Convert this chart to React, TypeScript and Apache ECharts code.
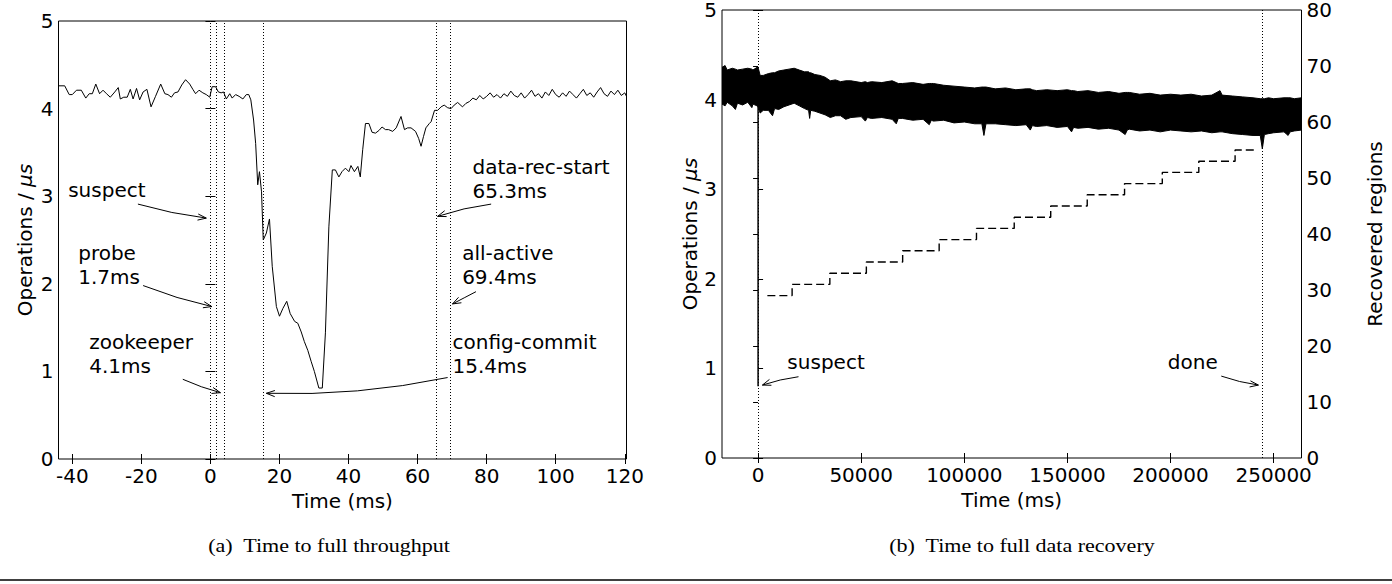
import React, { useEffect, useRef } from 'react';
import * as echarts from 'echarts';

// ---------- Left panel (a): throughput around the failure ----------
const leftThroughput: [number, number][] = [
  [-44.0, 4.26], [-42.2, 4.26], [-40.9, 4.16], [-40.0, 4.16], [-38.8, 4.21], [-37.4, 4.21],
  [-36.1, 4.12], [-35.1, 4.17], [-34.2, 4.17], [-33.2, 4.28], [-32.1, 4.17], [-31.1, 4.21],
  [-30.1, 4.17], [-29.0, 4.13], [-27.7, 4.19], [-26.7, 4.24], [-26.1, 4.11], [-25.1, 4.13],
  [-24.1, 4.13], [-23.2, 4.22], [-22.4, 4.11], [-21.4, 4.23], [-20.5, 4.10], [-19.5, 4.19],
  [-18.4, 4.22], [-17.2, 4.02], [-15.9, 4.14], [-14.4, 4.28], [-13.2, 4.17], [-12.3, 4.16],
  [-11.3, 4.13], [-10.4, 4.18], [-9.4, 4.19], [-8.3, 4.27], [-7.2, 4.33], [-6.0, 4.28],
  [-5.1, 4.22], [-4.3, 4.17], [-3.3, 4.21], [-2.2, 4.18], [-1.2, 4.16], [-0.2, 4.13],
  [0.5, 4.25], [1.5, 4.25], [2.3, 4.19], [3.1, 4.18], [3.8, 4.19], [4.6, 4.11],
  [5.6, 4.17], [6.3, 4.12], [7.3, 4.16], [8.3, 4.14], [9.4, 4.11], [10.4, 4.16],
  [11.1, 4.16], [11.7, 4.10], [12.5, 3.87], [13.1, 3.60], [13.7, 3.13], [14.2, 3.28],
  [14.8, 3.05], [15.3, 2.50], [16.2, 2.58], [17.1, 2.74], [17.9, 2.20], [19.1, 1.74],
  [20.0, 1.63], [21.0, 1.72], [22.1, 1.80], [23.1, 1.66], [24.4, 1.57], [25.3, 1.55],
  [26.3, 1.45], [27.2, 1.34], [28.2, 1.24], [29.2, 1.11], [30.1, 1.00], [31.4, 0.81],
  [32.4, 0.81], [33.3, 1.44], [34.3, 2.65], [35.3, 3.30], [36.2, 3.30], [37.2, 3.22],
  [38.1, 3.28], [39.1, 3.32], [40.1, 3.28], [40.7, 3.35], [41.7, 3.28], [42.7, 3.34],
  [43.4, 3.22], [44.1, 3.53], [44.9, 3.83], [45.9, 3.83], [46.8, 3.73], [47.8, 3.72],
  [48.8, 3.75], [49.7, 3.79], [50.7, 3.76], [51.6, 3.76], [52.8, 3.74], [53.8, 3.78],
  [55.2, 3.91], [56.2, 3.76], [57.1, 3.78], [58.1, 3.78], [59.4, 3.74], [60.3, 3.66],
  [61.0, 3.57], [61.7, 3.68], [62.4, 3.78], [63.4, 3.83], [63.9, 3.85], [64.9, 3.98],
  [65.8, 3.98], [66.8, 4.02], [67.7, 4.04], [68.7, 4.01], [69.7, 4.00], [70.6, 4.04],
  [71.6, 4.07], [73.0, 4.02], [74.0, 4.06], [75, 4.08], [76, 4.12], [77, 4.10],
  [78, 4.15], [79, 4.11], [80, 4.14], [81, 4.18], [82, 4.13], [83, 4.16], [84, 4.12],
  [85, 4.17], [86, 4.14], [87, 4.20], [88, 4.15], [89, 4.13], [90, 4.18], [91, 4.12],
  [92, 4.16], [93, 4.21], [94, 4.14], [95, 4.17], [96, 4.12], [97, 4.19], [98, 4.15],
  [99, 4.22], [100, 4.16], [101, 4.13], [102, 4.18], [103, 4.14], [104, 4.20], [105, 4.16],
  [106, 4.12], [107, 4.17], [108, 4.22], [109, 4.15], [110, 4.18], [111, 4.13], [112, 4.19],
  [113, 4.24], [114, 4.17], [115, 4.14], [116, 4.20], [117, 4.16], [118, 4.21], [119, 4.15],
  [120, 4.18], [120.5, 4.14],
];
const leftEvents = [0, 1.7, 4.1, 15.4, 65.3, 69.4];
const leftXTicks = [-40, -20, 0, 20, 40, 60, 80, 100, 120];

// text: label, x, y (block centre); arrow: [tailX, tailY, headX, headY, curvature]
const leftNotes: { text: string; x: number; y: number; arrow: number[] }[] = [
  { text: 'suspect', x: -41.2, y: 3.07, arrow: [-21.0, 2.91, -1.2, 2.75, 0.04] },
  { text: 'probe\n1.7ms', x: -38.3, y: 2.215, arrow: [-19.5, 1.98, 0.4, 1.74, 0.04] },
  { text: 'zookeeper\n4.1ms', x: -35.1, y: 1.2, arrow: [-8.0, 0.91, 2.9, 0.757, 0.04] },
  { text: 'data-rec-start\n65.3ms', x: 75.9, y: 3.194, arrow: [81.3, 2.91, 65.8, 2.77, 0.05] },
  { text: 'all-active\n69.4ms', x: 72.9, y: 2.21, arrow: [76.9, 1.91, 70.1, 1.77, 0.0] },
  { text: 'config-commit\n15.4ms', x: 70.1, y: 1.2, arrow: [68.7, 0.93, 16.2, 0.75, -0.06] },
];

// ---------- Right panel (b): full data recovery ----------
// envelope of the dense throughput trace: [time (ms), upper, lower]
const bandEnvelope: [number, number, number][] = [
  [-17500, 4.36, 3.95], [-16000, 4.38, 3.93], [-15000, 4.33, 3.97], [-12500, 4.35, 3.93],
  [-11000, 4.34, 3.89], [-10000, 4.33, 3.96], [-7500, 4.34, 3.94], [-5000, 4.35, 3.97],
  [-3000, 4.34, 3.91], [-2500, 4.33, 3.95], [-500, 4.36, 3.93], [0, 4.36, 3.92],
  [1000, 4.27, 3.85], [2500, 4.27, 3.88], [5000, 4.29, 3.88], [7000, 4.30, 3.82],
  [8000, 4.30, 3.90], [10000, 4.32, 3.89], [12500, 4.33, 3.92], [15000, 4.34, 3.94],
  [17500, 4.35, 3.96], [20000, 4.33, 3.93], [22500, 4.31, 3.90], [24500, 4.31, 3.88],
  [25000, 4.30, 3.79], [25500, 4.30, 3.88], [27500, 4.28, 3.87], [30000, 4.27, 3.85],
  [32500, 4.25, 3.83], [35000, 4.21, 3.80], [37500, 4.22, 3.82], [40000, 4.20, 3.82],
  [42500, 4.21, 3.78], [45000, 4.21, 3.80], [50000, 4.19, 3.81], [52000, 4.20, 3.76],
  [53000, 4.19, 3.80], [55000, 4.20, 3.79], [60000, 4.19, 3.80], [65000, 4.21, 3.78],
  [67000, 4.19, 3.73], [68000, 4.18, 3.79], [70000, 4.18, 3.79], [75000, 4.19, 3.77],
  [80000, 4.17, 3.78], [83000, 4.18, 3.72], [84000, 4.18, 3.77], [85000, 4.18, 3.76],
  [90000, 4.16, 3.77], [95000, 4.15, 3.74], [100000, 4.14, 3.75], [105000, 4.13, 3.73],
  [108500, 4.14, 3.73], [109500, 4.14, 3.60], [110500, 4.14, 3.73], [115000, 4.12, 3.73],
  [120000, 4.13, 3.72], [125000, 4.11, 3.71], [130000, 4.12, 3.72], [132000, 4.12, 3.66],
  [133000, 4.11, 3.71], [135000, 4.10, 3.70], [140000, 4.11, 3.71], [145000, 4.10, 3.69],
  [150000, 4.11, 3.70], [152000, 4.10, 3.64], [153000, 4.10, 3.69], [155000, 4.09, 3.68],
  [160000, 4.10, 3.69], [165000, 4.08, 3.67], [170000, 4.09, 3.68], [175000, 4.07, 3.66],
  [178000, 4.08, 3.61], [179000, 4.08, 3.66], [180000, 4.08, 3.67], [185000, 4.06, 3.65],
  [190000, 4.07, 3.66], [195000, 4.05, 3.64], [200000, 4.06, 3.66], [205000, 4.05, 3.65],
  [210000, 4.06, 3.64], [215000, 4.04, 3.65], [220000, 4.05, 3.63], [224000, 4.10, 3.64],
  [225000, 4.05, 3.64], [230000, 4.04, 3.62], [235000, 4.03, 3.61], [240000, 4.02, 3.60],
  [243500, 4.01, 3.60], [244500, 4.01, 3.45], [245500, 4.01, 3.61], [247500, 4.02, 3.62],
  [250000, 4.01, 3.63], [255000, 4.02, 3.64], [257000, 4.02, 3.60], [258000, 4.02, 3.64],
  [260000, 4.01, 3.65], [263500, 4.02, 3.66],
];
const suspectDrop: [number, number][] = [[0, 3.95], [0, 0.8]];
const regionSteps: [number, number][] = [
  [4500, 29], [16500, 31], [34800, 33], [52500, 35], [70100, 37], [87800, 39], [105900, 41],
  [124200, 43], [141900, 45], [159600, 47], [177700, 49], [196000, 51], [213700, 53],
  [231300, 55], [242000, 55],
];
const rightEvents = [0, 244500];
const rightXTicks = [0, 50000, 100000, 150000, 200000, 250000];
const rightNotes: { text: string; x: number; y: number; arrow: number[] }[] = [
  { text: 'suspect', x: 14200, y: 1.074, arrow: [19600, 0.907, 2100, 0.814, 0.05] },
  { text: 'done', x: 198700, y: 1.074, arrow: [224600, 0.914, 242600, 0.814, 0.05] },
];

const FONT = '"DejaVu Sans", sans-serif';

export default function App() {
  const ref = useRef<HTMLDivElement>(null);

  useEffect(() => {
    const chart = echarts.init(ref.current!, null, { renderer: 'svg' });
    const txt = { color: '#000', fontFamily: FONT, fontSize: 20 };
    const tick = { show: true, inside: true, length: 5, lineStyle: { color: '#000', width: 1 } };
    const noLine = { show: false };
    const dotted = { color: '#000', width: 1, type: [1, 2] as any };
    const yName = {
      ...txt,
      rich: {
        a: { fontFamily: FONT, fontSize: 20, color: '#000' },
        b: { fontFamily: FONT, fontSize: 20, color: '#000', fontStyle: 'italic' },
      },
    };

    chart.setOption({
      animation: false,
      grid: [
        { left: 58.5, top: 21, width: 568, height: 438, show: true, borderColor: '#000', borderWidth: 1, backgroundColor: 'transparent' },
        { left: 722, top: 9, width: 579.5, height: 449, show: true, borderColor: '#000', borderWidth: 1, backgroundColor: 'transparent' },
      ],
      xAxis: [
        {
          type: 'value', gridIndex: 0, min: -44, max: 120.5, axisLine: noLine, splitLine: { show: false },
          axisTick: { ...tick, customValues: leftXTicks },
          axisLabel: { ...txt, margin: 7, customValues: leftXTicks },
          name: 'Time (ms)', nameLocation: 'middle', nameGap: 30, nameTextStyle: txt,
        },
        {
          type: 'value', gridIndex: 0, position: 'top', min: -44, max: 120.5, axisLine: noLine, splitLine: { show: false },
          axisTick: { ...tick, customValues: leftXTicks }, axisLabel: { show: false, customValues: leftXTicks },
        },
        {
          type: 'value', gridIndex: 1, min: -17500, max: 263500, axisLine: noLine, splitLine: { show: false },
          axisTick: { ...tick, customValues: rightXTicks },
          axisLabel: { ...txt, margin: 7, customValues: rightXTicks, formatter: (v: number) => String(v) },
          name: 'Time (ms)', nameLocation: 'middle', nameGap: 30, nameTextStyle: txt,
        },
        {
          type: 'value', gridIndex: 1, position: 'top', min: -17500, max: 263500, axisLine: noLine, splitLine: { show: false },
          axisTick: { ...tick, customValues: rightXTicks }, axisLabel: { show: false, customValues: rightXTicks },
        },
      ],
      yAxis: [
        {
          type: 'value', gridIndex: 0, min: 0, max: 5, interval: 1, axisLine: noLine, splitLine: { show: false },
          axisTick: tick, axisLabel: { ...txt, margin: 5 },
          name: '{a|Operations / }{b|μs}', nameLocation: 'middle', nameGap: 24, nameRotate: 90, nameTextStyle: yName,
        },
        {
          type: 'value', gridIndex: 0, position: 'right', min: 0, max: 5, interval: 1, axisLine: noLine,
          splitLine: { show: false }, axisTick: tick, axisLabel: { show: false },
        },
        {
          type: 'value', gridIndex: 1, min: 0, max: 5, interval: 1, axisLine: noLine, splitLine: { show: false },
          axisTick: tick, axisLabel: { ...txt, margin: 5 },
          name: '{a|Operations / }{b|μs}', nameLocation: 'middle', nameGap: 22, nameRotate: 90, nameTextStyle: yName,
        },
        {
          type: 'value', gridIndex: 1, position: 'right', min: 0, max: 80, interval: 10, axisLine: noLine,
          splitLine: { show: false }, axisTick: tick, axisLabel: { ...txt, margin: 5 },
          name: 'Recovered regions', nameLocation: 'middle', nameGap: 63, nameRotate: 90, nameTextStyle: txt,
        },
      ],
      series: [
        {
          type: 'line', xAxisIndex: 0, yAxisIndex: 0, data: leftThroughput, symbol: 'none', silent: true,
          lineStyle: { color: '#000', width: 1 },
          markLine: {
            silent: true, symbol: ['none', 'none'], label: { show: false }, lineStyle: dotted,
            data: leftEvents.map((v) => ({ xAxis: v })),
          },
        },
        {
          type: 'custom', xAxisIndex: 2, yAxisIndex: 2, silent: true, clip: true,
          data: [[bandEnvelope[0][0], bandEnvelope[0][1]]],
          renderItem: (params: any, api: any) => {
            if (params.dataIndex !== 0) return null;
            const upper = bandEnvelope.map((b) => api.coord([b[0], b[1]]));
            const lower = bandEnvelope.map((b) => api.coord([b[0], b[2]])).reverse();
            return {
              type: 'polygon',
              shape: { points: upper.concat(lower) },
              style: { fill: '#000', stroke: '#000', lineWidth: 1 },
            };
          },
        },
        {
          type: 'line', xAxisIndex: 2, yAxisIndex: 2, data: suspectDrop, symbol: 'none', silent: true,
          lineStyle: { color: '#000', width: 1.5 },
        },
        {
          type: 'line', xAxisIndex: 2, yAxisIndex: 3, step: 'end', data: regionSteps, symbol: 'none', silent: true,
          lineStyle: { color: '#000', width: 1.4, type: [8, 4] },
          markLine: {
            silent: true, symbol: ['none', 'none'], label: { show: false }, lineStyle: dotted,
            data: rightEvents.map((v) => ({ xAxis: v })),
          },
        },
      ],
    });

    const elements: any[] = [];
    const addNotes = (notes: typeof leftNotes, xi: number, yi: number) => {
      notes.forEach((n) => {
        const p = chart.convertToPixel({ xAxisIndex: xi, yAxisIndex: yi }, [n.x, n.y]) as number[];
        elements.push({
          type: 'text', x: p[0], y: p[1], z: 100,
          style: {
            text: n.text, font: `20px ${FONT}`, fill: '#000', lineHeight: 24,
            textAlign: 'left', textVerticalAlign: 'middle', align: 'left', verticalAlign: 'middle',
          },
        });
        const [tx, ty, hx, hy, rad] = n.arrow;
        const p0 = chart.convertToPixel({ xAxisIndex: xi, yAxisIndex: yi }, [tx, ty]) as number[];
        const p2 = chart.convertToPixel({ xAxisIndex: xi, yAxisIndex: yi }, [hx, hy]) as number[];
        const dx = p2[0] - p0[0];
        const dy = p2[1] - p0[1];
        const cx = (p0[0] + p2[0]) / 2 - rad * dy;
        const cy = (p0[1] + p2[1]) / 2 + rad * dx;
        elements.push({
          type: 'bezierCurve', z: 100,
          shape: { x1: p0[0], y1: p0[1], x2: p2[0], y2: p2[1], cpx1: cx, cpy1: cy },
          style: { stroke: '#000', lineWidth: 1, fill: null },
        });
        let ux = p2[0] - cx;
        let uy = p2[1] - cy;
        const len = Math.hypot(ux, uy) || 1;
        ux /= len;
        uy /= len;
        const L = 9;
        const a = (20 * Math.PI) / 180;
        const rot = (s: number) => [
          p2[0] - L * (ux * Math.cos(s * a) - uy * Math.sin(s * a)),
          p2[1] - L * (ux * Math.sin(s * a) + uy * Math.cos(s * a)),
        ];
        elements.push({
          type: 'polyline', z: 100,
          shape: { points: [rot(1), [p2[0], p2[1]], rot(-1)] },
          style: { stroke: '#000', lineWidth: 1, fill: null },
        });
      });
    };
    addNotes(leftNotes, 0, 0);
    addNotes(rightNotes, 2, 2);

    const capFont = '19px "Liberation Serif", serif';
    elements.push(
      {
        type: 'text', x: 329, y: 546, z: 100, scaleX: 1.16,
        style: {
          text: '(a)  Time to full throughput', font: capFont, fill: '#000',
          textAlign: 'center', textVerticalAlign: 'middle', align: 'center', verticalAlign: 'middle',
        },
      },
      {
        type: 'text', x: 1022, y: 546, z: 100, scaleX: 1.16,
        style: {
          text: '(b)  Time to full data recovery', font: capFont, fill: '#000',
          textAlign: 'center', textVerticalAlign: 'middle', align: 'center', verticalAlign: 'middle',
        },
      },
      {
        type: 'line', z: 100, shape: { x1: 0, y1: 580, x2: 1392, y2: 580 },
        style: { stroke: '#000', lineWidth: 1.5 },
      },
    );
    chart.setOption({ graphic: { elements } });

    return () => chart.dispose();
  }, []);

  return (
    <div
      ref={ref}
      style={{ position: 'fixed', left: 0, top: 0, width: 1392, height: 584, background: '#fff' }}
    />
  );
}
